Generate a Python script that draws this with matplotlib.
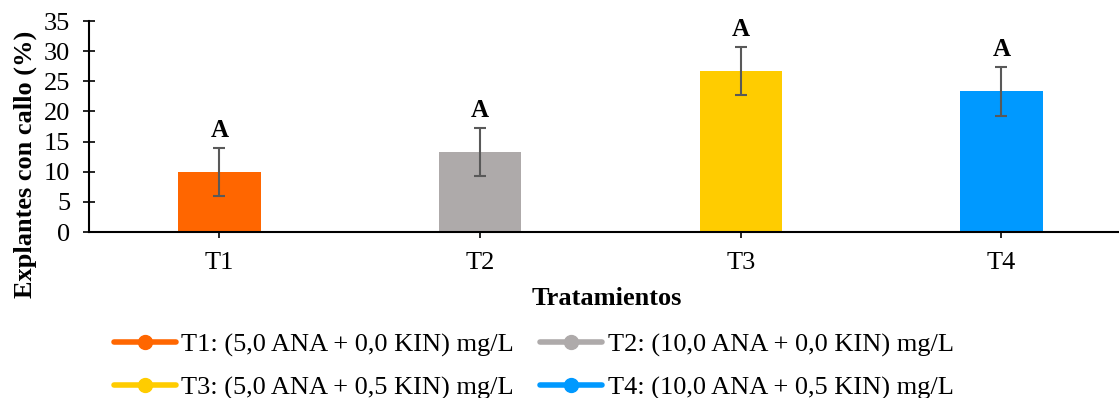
import matplotlib.pyplot as plt
from matplotlib.lines import Line2D

# Data
categories = ['T1', 'T2', 'T3', 'T4']
means = [10.0, 13.33, 26.67, 23.33]
errors = [4.0, 4.0, 4.0, 4.0]
letters = ['A', 'A', 'A', 'A']
colors = ['#FF6600', '#AEAAAA', '#FFCC00', '#0099FF']
legend_labels = [
    'T1: (5,0 ANA + 0,0 KIN) mg/L',
    'T2: (10,0 ANA + 0,0 KIN) mg/L',
    'T3: (5,0 ANA + 0,5 KIN) mg/L',
    'T4: (10,0 ANA + 0,5 KIN) mg/L',
]

plt.rcParams['font.family'] = ['Liberation Serif', 'DejaVu Serif']

fig = plt.figure(figsize=(11.19, 3.98), dpi=100)
ax = fig.add_axes([0.0795, 0.417, 0.925, 0.53])

x = range(len(categories))
ax.bar(x, means, width=0.316, color=colors, zorder=2)
ax.errorbar(x, means, yerr=errors, fmt='none', ecolor='#595959',
            elinewidth=1.5, capsize=4.5, capthick=1.5, zorder=3)

for i, (m, e, t) in enumerate(zip(means, errors, letters)):
    ax.text(i, m + e + 1.0, t, ha='center', va='bottom',
            fontsize=18, fontweight='bold')

ax.set_xlim(-0.5, 3.47)
ax.set_ylim(0, 35)
ax.set_yticks(range(0, 36, 5))
ax.set_xticks(list(x))
ax.set_xticklabels(categories)
ax.tick_params(axis='both', direction='inout', length=9, width=1.2,
               labelsize=19, colors='black')
ax.tick_params(axis='y', pad=9)
ax.tick_params(axis='x', pad=10)
for s in ['top', 'right']:
    ax.spines[s].set_visible(False)
ax.spines['left'].set_linewidth(1.5)
ax.spines['bottom'].set_linewidth(1.5)

ax.set_ylabel('Explantes con callo (%)', fontsize=19, fontweight='bold')
ax.yaxis.set_label_coords(-0.05, 0.32)
ax.set_xlabel('Tratamientos', fontsize=19, fontweight='bold', labelpad=9)

# legend fills column-wise, so order T1, T3, T2, T4 to get rows T1|T2 and T3|T4
order = [0, 2, 1, 3]
handles = [Line2D([0], [0], color=colors[i], lw=4, marker='o', markersize=10,
                  solid_capstyle='round') for i in order]
fig.legend(handles, [legend_labels[i] for i in order], loc='lower center', ncol=2,
           bbox_to_anchor=(0.477, -0.065), frameon=False, fontsize=19,
           handlelength=2.35, handletextpad=0.2, columnspacing=1.0,
           labelspacing=0.74)

fig.savefig('out.png', dpi=100)
